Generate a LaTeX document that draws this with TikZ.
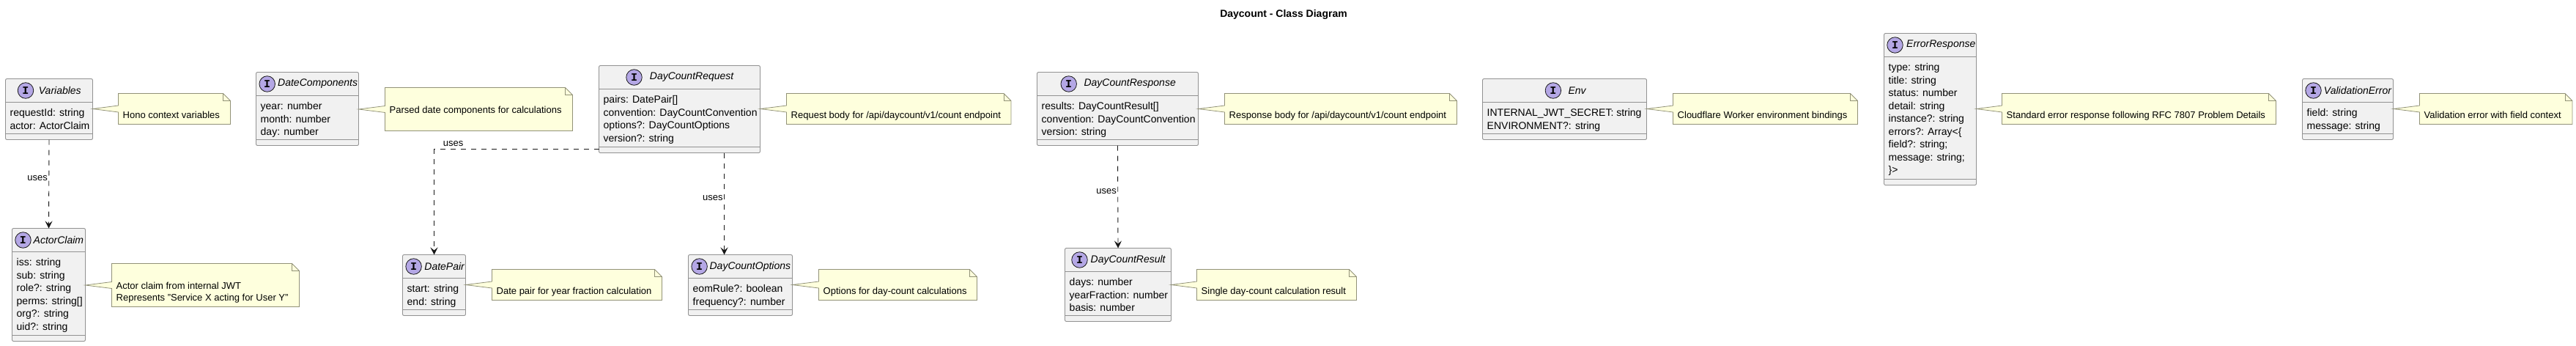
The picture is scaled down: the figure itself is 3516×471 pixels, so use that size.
\documentclass[tikz,border=0pt]{standalone}
\usepackage{fontspec}
\setmainfont{Liberation Sans}
\newfontfamily\spotfont{Liberation Mono}
\usetikzlibrary{positioning,arrows.meta,calc}
\definecolor{classfill}{HTML}{F1F1F1}
\definecolor{classedge}{HTML}{929292}
\definecolor{notefill}{HTML}{FEFFDD}
\definecolor{noteedge}{HTML}{929278}
\definecolor{spotfill}{HTML}{B4A7E5}
\definecolor{ink}{HTML}{181818}

\tikzset{
    classbox/.style={draw=classedge, fill=classfill, line width=0.9pt, rounded corners=2pt, anchor=north west, inner sep=0pt, outer sep=0pt},
    classline/.style={draw=classedge, line width=0.9pt},
    spot/.style={circle, draw=ink, fill=spotfill, line width=0.8pt, minimum size=21.5pt, inner sep=0pt, font=\spotfont\bfseries\fontsize{15}{15}\selectfont},
    classname/.style={anchor=west, inner sep=0pt, font=\itshape\fontsize{14}{17}\selectfont},
    members/.style={anchor=north west, align=left, inner sep=0pt, font=\fontsize{14}{17.55}\selectfont},
    noteanchor/.style={anchor=north west, inner sep=0pt, outer sep=0pt},
    noteline/.style={draw=noteedge, line width=0.8pt},
    notetext/.style={anchor=south west, align=left, inner sep=0pt, font=\fontsize{13}{16.2}\selectfont},
    uses/.style={draw=ink, dashed, dash pattern=on 7pt off 7pt, line width=0.9pt, -{Stealth[length=10pt, width=10pt, inset=4pt]}},
    useslabel/.style={inner sep=0pt, font=\fontsize{13}{16}\selectfont},
    charttitle/.style={inner sep=0pt, font=\bfseries\fontsize{14}{17}\selectfont}
}

% #1 box, #2 spot offset, #3 name offset, #4 name, #5 members
\newcommand{\classparts}[5]{
    \draw[classline] ([yshift=-32pt]#1.north west) -- ([yshift=-32pt]#1.north east);
    \draw[classline] ([yshift=8pt]#1.south west) -- ([yshift=8pt]#1.south east);
    \node[spot] (#1Spot) at ([xshift=#2pt, yshift=-16pt]#1.north west) {I};
    \node[classname] (#1Name) at ([xshift=#3pt, yshift=-16pt]#1.north west) {#4};
    \node[members] (#1Members) at ([xshift=6pt, yshift=-38.5pt]#1.north west) {\strut #5};
}

% #1 note, #2 box it points at, #3 text
\newcommand{\noteparts}[3]{
    \draw[noteline, fill=notefill] (#1.north west) -- ([xshift=-10pt]#1.north east) -- ([yshift=-10pt]#1.north east)
        -- (#1.south east) -- (#1.south west) -- ([yshift=-4.5pt]#1.west) -- (#2.east |- #1.west) -- ([yshift=4.5pt]#1.west) -- cycle;
    \draw[noteline] ([xshift=-10pt]#1.north east) -- ([xshift=-10pt, yshift=-10pt]#1.north east) -- ([yshift=-10pt]#1.north east);
    \node[notetext] (#1Text) at ([xshift=6pt, yshift=3.1pt]#1.south west) {#3\strut};
}

\begin{document}
\begin{tikzpicture}[x=1pt, y=-1pt, >=Stealth]
    \useasboundingbox (0,0) rectangle (3516,471);

    \node[charttitle] (title) at (1752,20) {Daycount - Class Diagram};

    % Class boxes
    \node[classbox, minimum width=119pt, minimum height=83pt] (Variables) at (7.5,107.5) {};
    \classparts{Variables}{27.5}{45.2}{Variables}{requestId: string\\actor: ActorClaim}
    \node[classbox, minimum width=100pt, minimum height=154pt] (ActorClaim) at (16.5,311.5) {};
    \classparts{ActorClaim}{15}{29}{ActorClaim}{iss: string\\sub: string\\role?: string\\perms: string[]\\org?: string\\uid?: string}
    \node[classbox, minimum width=140pt, minimum height=100pt] (DateComponents) at (349.5,98.5) {};
    \classparts{DateComponents}{15.2}{29.5}{DateComponents}{year: number\\month: number\\day: number}
    \node[classbox, minimum width=220pt, minimum height=119pt] (DayCountRequest) at (817.5,89.5) {};
    \classparts{DayCountRequest}{48}{69.2}{DayCountRequest}{pairs: DatePair[]\\convention: DayCountConvention\\options?: DayCountOptions\\version?: string}
    \node[classbox, minimum width=86pt, minimum height=83pt] (DatePair) at (549.5,347.5) {};
    \classparts{DatePair}{15.1}{29.7}{DatePair}{start: string\\end: string}
    \node[classbox, minimum width=142pt, minimum height=83pt] (DayCountOptions) at (939.5,347.5) {};
    \classparts{DayCountOptions}{15.1}{28.9}{DayCountOptions}{eomRule?: boolean\\frequency?: number}
    \node[classbox, minimum width=220pt, minimum height=100pt] (DayCountResponse) at (1415.5,98.5) {};
    \classparts{DayCountResponse}{43.2}{63.8}{DayCountResponse}{results: DayCountResult[]\\convention: DayCountConvention\\version: string}
    \node[classbox, minimum width=145pt, minimum height=100pt] (DayCountResult) at (1453.5,338.5) {};
    \classparts{DayCountResult}{20}{35}{DayCountResult}{days: number\\yearFraction: number\\basis: number}
    \node[classbox, minimum width=224pt, minimum height=83pt] (Env) at (2023.5,107.5) {};
    \classparts{Env}{96.4}{116.8}{Env}{INTERNAL\_JWT\_SECRET: string\\ENVIRONMENT?: string}
    \node[classbox, minimum width=126pt, minimum height=207pt] (ErrorResponse) at (2571.5,45.5) {};
    \classparts{ErrorResponse}{15}{30.5}{ErrorResponse}{type: string\\title: string\\status: number\\detail: string\\instance?: string\\errors?: Array<\{\\field?: string;\\message: string;\\\}>}
    \node[classbox, minimum width=124pt, minimum height=83pt] (ValidationError) at (3142.5,107.5) {};
    \classparts{ValidationError}{15}{29.2}{ValidationError}{field: string\\message: string}

    % Notes
    \node[noteanchor, minimum width=153pt, minimum height=42pt] (VariablesNote) at (161.5,127.5) {};
    \noteparts{VariablesNote}{Variables}{Hono context variables}
    \node[noteanchor, minimum width=256pt, minimum height=59pt] (ActorClaimNote) at (152.5,359.5) {};
    \noteparts{ActorClaimNote}{ActorClaim}{Actor claim from internal JWT\\Represents "Service X acting for User Y"}
    \node[noteanchor, minimum width=256pt, minimum height=59pt] (DateComponentsNote) at (525.5,119.5) {};
    \noteparts{DateComponentsNote}{DateComponents}{Parsed date components for calculations\\\mbox{}}
    \node[noteanchor, minimum width=306.5pt, minimum height=42pt] (DayCountRequestNote) at (1073.5,127.5) {};
    \noteparts{DayCountRequestNote}{DayCountRequest}{Request body for /api/daycount/v1/count endpoint}
    \node[noteanchor, minimum width=232pt, minimum height=42pt] (DatePairNote) at (671.5,367.5) {};
    \noteparts{DatePairNote}{DatePair}{Date pair for year fraction calculation}
    \node[noteanchor, minimum width=216pt, minimum height=42pt] (DayCountOptionsNote) at (1117.5,367.5) {};
    \noteparts{DayCountOptionsNote}{DayCountOptions}{Options for day-count calculations}
    \node[noteanchor, minimum width=317pt, minimum height=42pt] (DayCountResponseNote) at (1671.5,127.5) {};
    \noteparts{DayCountResponseNote}{DayCountResponse}{Response body for /api/daycount/v1/count endpoint}
    \node[noteanchor, minimum width=218pt, minimum height=42pt] (DayCountResultNote) at (1633.5,367.5) {};
    \noteparts{DayCountResultNote}{DayCountResult}{Single day-count calculation result}
    \node[noteanchor, minimum width=252pt, minimum height=42pt] (EnvNote) at (2283.5,127.5) {};
    \noteparts{EnvNote}{Env}{Cloudflare Worker environment bindings}
    \node[noteanchor, minimum width=374pt, minimum height=42pt] (ErrorResponseNote) at (2732.5,127.5) {};
    \noteparts{ErrorResponseNote}{ErrorResponse}{Standard error response following RFC 7807 Problem Details}
    \node[noteanchor, minimum width=208.5pt, minimum height=42pt] (ValidationErrorNote) at (3302.5,127.5) {};
    \noteparts{ValidationErrorNote}{ValidationError}{Validation error with field context}

    % Uses arrows
    \draw[uses] (Variables.south) -- (ActorClaim.north)
        node[useslabel, pos=0.435, left=1.5pt] (usesActor) {uses};
    \draw[uses] ([yshift=5pt]DayCountRequest.south west) -| (DatePair.north)
        node[useslabel, pos=0.5, anchor=south west, xshift=12pt, yshift=3.5pt] (usesPair) {uses};
    \coordinate (optionsIn) at ([xshift=-22pt]DayCountOptions.north);
    \draw[uses] (DayCountRequest.south -| optionsIn) -- (optionsIn)
        node[useslabel, pos=0.44, left=1.5pt] (usesOptions) {uses};
    \draw[uses] (DayCountResponse.south) -- (DayCountResult.north)
        node[useslabel, pos=0.447, left=1.5pt] (usesResult) {uses};
\end{tikzpicture}
\end{document}
